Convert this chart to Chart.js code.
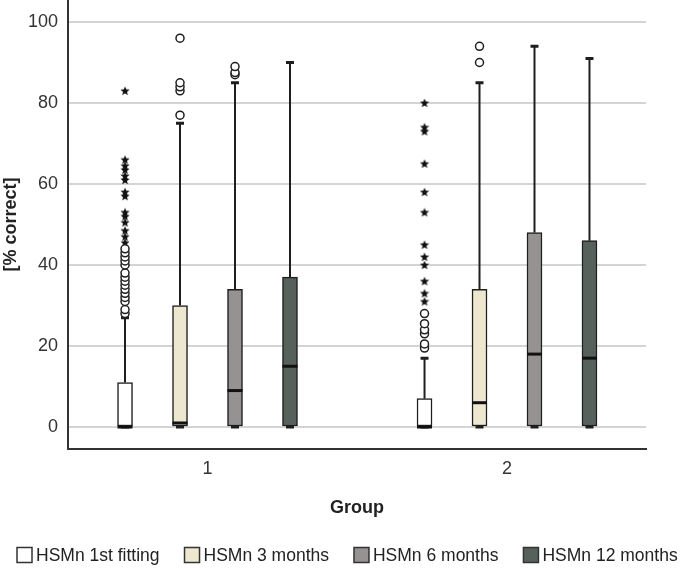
<!DOCTYPE html>
<html lang="en">
<head>
<meta charset="UTF-8">
<title>HSMn boxplot</title>
<script src="https://cdn.jsdelivr.net/npm/chart.js@4"></script>
<style>
    html, body { margin: 0; padding: 0; background: #fff; }
    #wrap { width: 685px; height: 568px; position: relative; }
</style>
</head>
<body>
<div id="wrap"><canvas id="chart"></canvas></div>
<script>
// ---- data ----
const groupLabels = ['1', '2'];
const seriesNames = ['HSMn 1st fitting', 'HSMn 3 months', 'HSMn 6 months', 'HSMn 12 months'];

// one row per series, [group 1, group 2]
const whiskerLow  = [[0, 0], [0, 0], [0, 0], [0, 0]];
const quartile1   = [[0, 0], [0, 0], [0, 0], [0, 0]];
const medians     = [[0, 0], [1, 6], [9, 18], [15, 17]];
const quartile3   = [[11, 7], [30, 34], [34, 48], [37, 46]];
const whiskerHigh = [[27, 17], [75, 85], [85, 94], [90, 91]];

// outliers (o) and extreme values (*)
const circleOutliers = [
    [[28, 29, 31, 32, 33, 34, 35, 36, 37, 38, 40, 41, 42, 43, 44], [19.5, 20.5, 23, 24, 25.5, 28]],
    [[77, 83, 84, 85, 96], [90, 94]],
    [[87, 87.5, 89], []],
    [[], []]
];
const starOutliers = [
    [[45.5, 47, 48.5, 50.5, 52, 53, 57, 58, 61, 62, 63.5, 64.5, 66, 83], [31, 33, 36, 40, 42, 45, 53, 58, 65, 73, 74, 80]],
    [[], []],
    [[], []],
    [[], []]
];

// ---- styling ----
const seriesColors = ['#ffffff', '#ede7cf', '#979292', '#56615b'];
const ink = '#1e1e1e';
const FONT = "'Liberation Sans', Arial, sans-serif";
const seriesStep = 0.1836;   // spacing of boxes inside a group (x units)
const seriesOffset = s => (s - 1.5) * seriesStep;

// filled five point star used as point style
const starImg = document.createElement('canvas');
starImg.width = 10; starImg.height = 10;
(function () {
    const c = starImg.getContext('2d');
    c.fillStyle = '#111';
    c.beginPath();
    for (let i = 0; i < 10; i++) {
        const r = i % 2 === 0 ? 4.8 : 2.1;
        const a = -Math.PI / 2 + i * Math.PI / 5;
        const px = 5 + r * Math.cos(a), py = 5.3 + r * Math.sin(a);
        if (i === 0) c.moveTo(px, py); else c.lineTo(px, py);
    }
    c.closePath();
    c.fill();
})();

const boxDatasets = seriesNames.map((name, s) => ({
    type: 'bar',
    label: name,
    data: groupLabels.map((_, g) => ({ x: g + 1 + seriesOffset(s), y: [quartile1[s][g], quartile3[s][g]] })),
    backgroundColor: seriesColors[s],
    borderColor: ink,
    borderWidth: 1.5,
    borderSkipped: false,
    barThickness: 15,
    grouped: false
}));

function outlierPoints(list) {
    const pts = [];
    list.forEach((perGroup, s) => perGroup.forEach((vals, g) => vals.forEach(v => {
        pts.push({ x: g + 1 + seriesOffset(s), y: v });
    })));
    return pts;
}

const circleDataset = {
    type: 'scatter',
    label: 'outliers',
    data: outlierPoints(circleOutliers),
    pointStyle: 'circle',
    pointRadius: 4,
    pointBorderWidth: 1.5,
    pointBorderColor: ink,
    pointBackgroundColor: '#fff'
};
const starDataset = {
    type: 'scatter',
    label: 'extremes',
    data: outlierPoints(starOutliers),
    pointStyle: starImg
};

// whiskers, caps and medians, placed on the bars the library drew
const whiskerPlugin = {
    id: 'whiskers',
    beforeDatasetsDraw(chart) {
        const ctx = chart.ctx, y = chart.scales.y;
        ctx.save();
        ctx.strokeStyle = ink;
        seriesNames.forEach((_, s) => {
            chart.getDatasetMeta(s).data.forEach((bar, g) => {
                const x = bar.x;
                ctx.lineWidth = 2;
                ctx.beginPath();
                ctx.moveTo(x, y.getPixelForValue(quartile3[s][g]));
                ctx.lineTo(x, y.getPixelForValue(whiskerHigh[s][g]));
                ctx.moveTo(x, y.getPixelForValue(quartile1[s][g]));
                ctx.lineTo(x, y.getPixelForValue(whiskerLow[s][g]));
                ctx.stroke();
                ctx.lineWidth = 3;
                ctx.beginPath();
                [whiskerHigh[s][g], whiskerLow[s][g]].forEach(v => {
                    const py = y.getPixelForValue(v);
                    ctx.moveTo(x - 4, py);
                    ctx.lineTo(x + 4, py);
                });
                ctx.stroke();
            });
        });
        ctx.restore();
    },
    afterDatasetsDraw(chart) {
        const ctx = chart.ctx, y = chart.scales.y;
        ctx.save();
        ctx.strokeStyle = '#111';
        ctx.lineWidth = 3;
        seriesNames.forEach((_, s) => {
            chart.getDatasetMeta(s).data.forEach((bar, g) => {
                const py = y.getPixelForValue(medians[s][g]);
                ctx.beginPath();
                ctx.moveTo(bar.x - bar.width / 2, py);
                ctx.lineTo(bar.x + bar.width / 2, py);
                ctx.stroke();
            });
        });
        ctx.restore();
    }
};

// legend row at the bottom, laid out like the original
const legendPlugin = {
    id: 'bottomLegend',
    afterDraw(chart) {
        const ctx = chart.ctx;
        const cy = chart.height - 13;
        let x = 17;
        ctx.save();
        ctx.font = '17.5px ' + FONT;
        ctx.textBaseline = 'middle';
        ctx.textAlign = 'left';
        seriesNames.forEach((name, s) => {
            ctx.fillStyle = seriesColors[s];
            ctx.fillRect(x, cy - 7.5, 15, 15);
            ctx.strokeStyle = '#333';
            ctx.lineWidth = 1.5;
            ctx.strokeRect(x, cy - 7.5, 15, 15);
            ctx.fillStyle = '#222';
            ctx.fillText(name, x + 19, cy + 1);
            x += 19 + ctx.measureText(name).width + 25;
        });
        ctx.restore();
    }
};

new Chart(document.getElementById('chart'), {
    type: 'bar',
    data: { datasets: [...boxDatasets, circleDataset, starDataset] },
    options: {
        responsive: true,
        maintainAspectRatio: false,
        animation: false,
        layout: { autoPadding: false, padding: { top: 0, left: 0, right: 39, bottom: 49 } },
        plugins: {
            legend: { display: false },
            tooltip: { enabled: false }
        },
        scales: {
            x: {
                type: 'linear',
                offset: false,
                min: 0.5342,
                max: 2.4641,
                grid: { display: false, drawTicks: false },
                border: { display: true, color: '#333', width: 2 },
                ticks: {
                    stepSize: 1,
                    includeBounds: false,
                    padding: 9,
                    color: '#333',
                    font: { family: FONT, size: 18 },
                    callback: v => groupLabels[v - 1]
                },
                title: {
                    display: true,
                    text: 'Group',
                    color: '#222',
                    font: { family: FONT, size: 18, weight: 'bold' },
                    padding: { top: 0, bottom: 0 }
                },
                afterFit(scale) { scale.height = 70; scale.paddingLeft = 0; scale.paddingRight = 0; }
            },
            y: {
                min: -5.43,
                max: 105.43,
                grid: { color: '#d4d4d4', lineWidth: 2, drawTicks: false },
                border: { display: true, color: '#333', width: 2 },
                ticks: {
                    stepSize: 20,
                    includeBounds: false,
                    padding: 10,
                    color: '#333',
                    font: { family: FONT, size: 18 }
                },
                title: {
                    display: true,
                    text: '[% correct]',
                    color: '#222',
                    font: { family: FONT, size: 18, weight: 'bold' },
                    padding: { top: 0, bottom: 0 }
                },
                afterFit(scale) { scale.width = 68; scale.paddingTop = 0; scale.paddingBottom = 0; }
            }
        }
    },
    plugins: [whiskerPlugin, legendPlugin]
});
</script>
</body>
</html>
